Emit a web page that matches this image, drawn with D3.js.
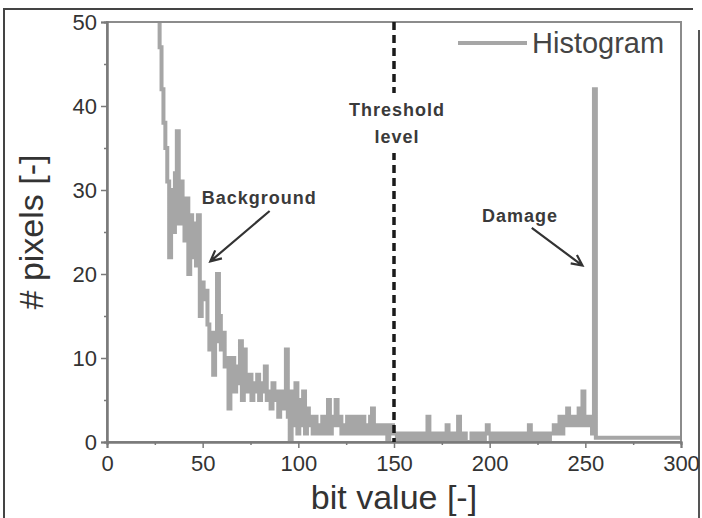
<!DOCTYPE html>
<html>
<head>
<meta charset="utf-8">
<script src="https://cdn.jsdelivr.net/npm/d3@7"></script>
<style>
  body { margin: 0; background: #fff; }
  svg { display: block; }
</style>
</head>
<body>
<svg id="chart" width="702" height="518"></svg>
<script>
// histogram counts, one per bit value starting at firstBit
const firstBit = 26;
const pixelCounts = [
  60, 52, 47, 42,
  38, 35, 31, 22, 30, 25, 32, 37, 26, 31,
  28, 24, 29, 20, 27, 22, 26, 21, 27, 15,
  19, 17, 18, 14, 11, 13, 8, 12, 20, 15,
  11, 13, 9, 10, 4, 8, 10, 6, 9, 7,
  12, 5, 11, 8, 6, 8, 5, 7, 6, 8,
  5, 7, 6, 9, 5, 6, 4, 7, 5, 6,
  3, 6, 4, 5, 11, 3, 0, 6, 2, 7,
  1, 5, 2, 6, 1, 4, 2, 3, 1, 3,
  1, 2, 1, 3, 2, 1, 5, 1, 3, 2,
  5, 2, 3, 1, 2, 1, 3, 1, 2, 3,
  1, 3, 1, 2, 3, 1, 2, 1, 3, 4,
  1, 2, 1, 2, 1, 1, 2, 0, 1, 2,
  1, 1, 0, 1, 0, 1, 1, 0, 1, 1,
  0, 1, 1, 0, 1, 0, 1, 0, 3, 1,
  0, 1, 0, 1, 1, 0, 1, 0, 2, 1,
  0, 1, 1, 0, 3, 1, 0, 1, 0, 0,
  0, 1, 0, 0, 1, 0, 1, 0, 1, 2,
  1, 0, 1, 0, 1, 0, 0, 1, 0, 1,
  0, 1, 1, 0, 1, 0, 0, 1, 0, 1,
  0, 2, 0, 0, 1, 0, 1, 1, 0, 1,
  1, 0, 1, 1, 2, 1, 2, 3, 1, 2,
  3, 4, 2, 3, 2, 3, 2, 4, 2, 6,
  2, 3, 2, 3, 1, 42
];
// flat tail after the damage peak
const tailBits = [256, 300];
const tailCounts = [0.5, 0.5];

const xTicks = [0, 50, 100, 150, 200, 250, 300];
const yTicks = [0, 10, 20, 30, 40, 50];
const thresholdBit = 150;

const svg = d3.select("#chart");
const mLeft = 107, mRight = 681, mTop = 22, mBottom = 442;

const x = d3.scaleLinear().domain([0, 300]).range([mLeft, mRight]);
const y = d3.scaleLinear().domain([0, 50]).range([mBottom, mTop]);

const points = pixelCounts.map((c, i) => [firstBit + i, c])
  .concat(tailBits.map((b, i) => [b, tailCounts[i]]));

// outer figure frame
svg.append("path")
  .attr("d", "M4,518 V9 H693")
  .attr("fill", "none").attr("stroke", "#444").attr("stroke-width", 2);
svg.append("line")
  .attr("x1", 699).attr("x2", 699).attr("y1", 30).attr("y2", 518)
  .attr("stroke", "#555").attr("stroke-width", 2);

svg.append("defs").append("clipPath").attr("id", "plotClip")
  .append("rect").attr("x", mLeft).attr("y", mTop)
  .attr("width", mRight - mLeft).attr("height", mBottom - mTop);

// histogram line
svg.append("path")
  .datum(points)
  .attr("clip-path", "url(#plotClip)")
  .attr("fill", "none")
  .attr("stroke", "#a6a6a6")
  .attr("stroke-width", 4)
  .attr("stroke-linejoin", "miter")
  .attr("d", d3.line().x(d => x(d[0])).y(d => y(d[1])).curve(d3.curveStep));

// plot frame
svg.append("rect")
  .attr("x", mLeft).attr("y", mTop)
  .attr("width", mRight - mLeft).attr("height", mBottom - mTop)
  .attr("fill", "none").attr("stroke", "#8c8c8c").attr("stroke-width", 2);

// axes
const xAxis = svg.append("g").attr("transform", `translate(0,${mBottom})`)
  .call(d3.axisBottom(x).tickValues(xTicks).tickSize(6).tickPadding(4));
xAxis.append("g").call(d3.axisBottom(x).tickValues(d3.range(25, 300, 50)).tickSize(3).tickFormat(""));
const yAxis = svg.append("g").attr("transform", `translate(${mLeft},0)`)
  .call(d3.axisLeft(y).tickValues(yTicks).tickSize(6).tickPadding(4));
yAxis.append("g").call(d3.axisLeft(y).tickValues(d3.range(5, 50, 10)).tickSize(3).tickFormat(""));

svg.selectAll(".domain").attr("stroke", "#7a7a7a").attr("stroke-width", 2);
svg.selectAll(".tick line").attr("stroke", "#7a7a7a").attr("stroke-width", 1.5);
svg.selectAll(".tick text")
  .attr("fill", "#333")
  .style("font-family", "'Liberation Sans Narrow', 'Liberation Sans', Arial, sans-serif")
  .style("font-size", "22px");
xAxis.selectAll(".tick text").attr("dy", "0.85em");

// axis titles
svg.append("text")
  .attr("x", (mLeft + mRight) / 2).attr("y", 509)
  .attr("text-anchor", "middle")
  .attr("fill", "#333")
  .style("font-family", "'Liberation Sans', Arial, sans-serif")
  .style("font-size", "34px")
  .text("bit value [-]");
svg.append("text")
  .attr("transform", `translate(43,${(mTop + mBottom) / 2}) rotate(-90)`)
  .attr("text-anchor", "middle")
  .attr("fill", "#333")
  .style("font-family", "'Liberation Sans', Arial, sans-serif")
  .style("font-size", "34px")
  .text("# pixels [-]");

// threshold line with a white label box
svg.append("line")
  .attr("x1", x(thresholdBit)).attr("x2", x(thresholdBit))
  .attr("y1", mTop).attr("y2", mBottom)
  .attr("stroke", "#1a1a1a").attr("stroke-width", 3.5)
  .attr("stroke-dasharray", "8,5");
svg.append("rect")
  .attr("x", x(thresholdBit) - 58).attr("y", 93)
  .attr("width", 118).attr("height", 60)
  .attr("fill", "#fff");

const annot = svg.append("g")
  .attr("fill", "#3a3a3a")
  .style("font-family", "'Liberation Sans', Arial, sans-serif")
  .style("font-weight", "bold")
  .style("font-size", "18px")
  .style("letter-spacing", "1px");
annot.append("text").attr("x", x(thresholdBit) + 3).attr("y", 116)
  .attr("text-anchor", "middle").text("Threshold");
annot.append("text").attr("x", x(thresholdBit) + 3).attr("y", 143)
  .attr("text-anchor", "middle").text("level");
annot.append("text").attr("x", x(49.5)).attr("y", y(28.3)).text("Background");
annot.append("text").attr("x", x(196)).attr("y", y(26.2)).text("Damage");

// arrows
const arrows = [
  { from: [85, 27.5], to: [54, 21.5] },
  { from: [222, 25.5], to: [248.5, 21] }
];
arrows.forEach(a => {
  const x1 = x(a.from[0]), y1 = y(a.from[1]), x2 = x(a.to[0]), y2 = y(a.to[1]);
  const ang = Math.atan2(y2 - y1, x2 - x1), h = 12, spread = 0.45;
  svg.append("path")
    .attr("d", `M${x1},${y1} L${x2},${y2}` +
      ` M${x2 - h * Math.cos(ang - spread)},${y2 - h * Math.sin(ang - spread)} L${x2},${y2}` +
      ` L${x2 - h * Math.cos(ang + spread)},${y2 - h * Math.sin(ang + spread)}`)
    .attr("fill", "none").attr("stroke", "#333").attr("stroke-width", 2.2);
});

// legend
const legend = svg.append("g");
legend.append("line")
  .attr("x1", 458).attr("x2", 527).attr("y1", 43).attr("y2", 43)
  .attr("stroke", "#a6a6a6").attr("stroke-width", 4);
legend.append("text")
  .attr("x", 532).attr("y", 53)
  .attr("fill", "#444")
  .style("font-family", "'Liberation Sans', Arial, sans-serif")
  .style("font-size", "29px")
  .text("Histogram");
</script>
</body>
</html>
